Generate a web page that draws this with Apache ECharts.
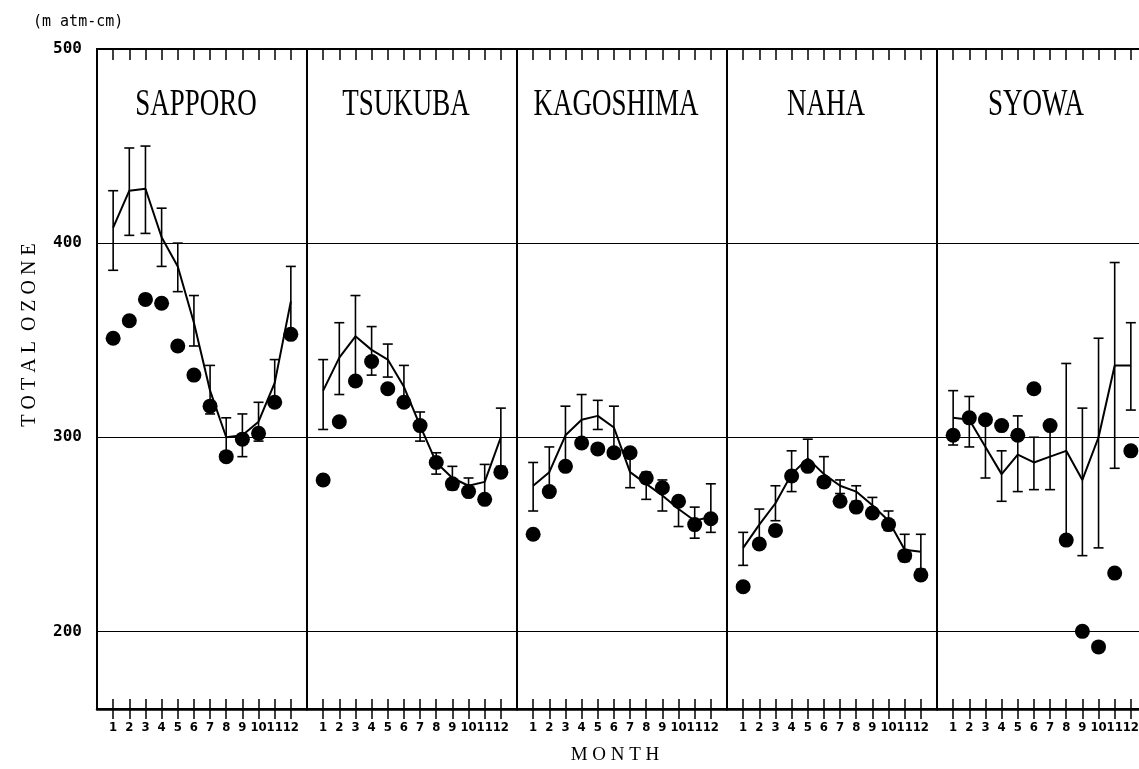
<!DOCTYPE html>
<html>
<head>
<meta charset="utf-8">
<script src="https://cdn.jsdelivr.net/npm/echarts@6/dist/echarts.min.js"></script>
<style>
  html, body { margin: 0; padding: 0; background: #fff; overflow: hidden; }
  #ozone { width: 1160px; height: 769px; }
</style>
</head>
<body>
<div id="ozone"></div>
<script>
// months and stations
const months = [1, 2, 3, 4, 5, 6, 7, 8, 9, 10, 11, 12]
const stations = ['SAPPORO', 'TSUKUBA', 'KAGOSHIMA', 'NAHA', 'SYOWA']
const yLabels = [200, 300, 400, 500]
const refLines = [200, 300, 400]

// mean (line), error bar low/high, single year (dots) — m atm-cm
const sapporoMean = [408, 427, 428, 403, 388, 359, 324, 300, 301, 308, 328, 370]
const sapporoLow = [386, 404, 405, 388, 375, 347, 312, 292, 290, 298, 316, 352]
const sapporoHigh = [427, 449, 450, 418, 400, 373, 337, 310, 312, 318, 340, 388]
const sapporoDots = [351, 360, 371, 369, 347, 332, 316, 290, 299, 302, 318, 353]

const tsukubaMean = [324, 341, 352, 345, 340, 326, 306, 287, 279, 275, 277, 300]
const tsukubaLow = [304, 322, 331, 332, 331, 317, 298, 281, 273, 271, 267, 285]
const tsukubaHigh = [340, 359, 373, 357, 348, 337, 313, 292, 285, 279, 286, 315]
const tsukubaDots = [278, 308, 329, 339, 325, 318, 306, 287, 276, 272, 268, 282]

const kagoshimaMean = [275, 282, 301, 309, 311, 305, 282, 276, 270, 263, 257, 259]
const kagoshimaLow = [262, 270, 286, 297, 304, 294, 274, 268, 262, 254, 248, 251]
const kagoshimaHigh = [287, 295, 316, 322, 319, 316, 292, 282, 278, 269, 264, 276]
const kagoshimaDots = [250, 272, 285, 297, 294, 292, 292, 279, 274, 267, 255, 258]

const nahaMean = [243, 255, 266, 281, 289, 281, 275, 272, 265, 257, 242, 241]
const nahaLow = [234, 247, 257, 272, 285, 275, 271, 267, 260, 252, 236, 232]
const nahaHigh = [251, 263, 275, 293, 299, 290, 278, 275, 269, 262, 250, 250]
const nahaDots = [223, 245, 252, 280, 285, 277, 267, 264, 261, 255, 239, 229]

const syowaMean = [310, 309, 295, 281, 291, 287, 290, 293, 278, 300, 337, 337]
const syowaLow = [296, 295, 279, 267, 272, 273, 273, 248, 239, 243, 284, 314]
const syowaHigh = [324, 321, 308, 293, 311, 300, 306, 338, 315, 351, 390, 359]
const syowaDots = [301, 310, 309, 306, 301, 325, 306, 247, 200, 192, 230, 293]

const meanSets = [sapporoMean, tsukubaMean, kagoshimaMean, nahaMean, syowaMean]
const lowSets = [sapporoLow, tsukubaLow, kagoshimaLow, nahaLow, syowaLow]
const highSets = [sapporoHigh, tsukubaHigh, kagoshimaHigh, nahaHigh, syowaHigh]
const dotSets = [sapporoDots, tsukubaDots, kagoshimaDots, nahaDots, syowaDots]

// layout
const PANEL_LEFT = 97
const PANEL_W = 210
const GRID_TOP = 49
const GRID_H = 660
const MONO = 'DejaVu Sans Mono'
const SERIF = 'Liberation Serif'

function renderErrorBar(params, api) {
  const x = api.value(0)
  const lo = api.coord([x, api.value(1)])
  const hi = api.coord([x, api.value(2)])
  const cap = 5
  const style = { stroke: '#000', lineWidth: 1.6 }
  return {
    type: 'group',
    children: [
      { type: 'line', shape: { x1: lo[0], y1: lo[1], x2: hi[0], y2: hi[1] }, style: style },
      { type: 'line', shape: { x1: lo[0] - cap, y1: lo[1], x2: lo[0] + cap, y2: lo[1] }, style: style },
      { type: 'line', shape: { x1: hi[0] - cap, y1: hi[1], x2: hi[0] + cap, y2: hi[1] }, style: style }
    ]
  }
}

const grids = []
const xAxes = []
const yAxes = []
const series = []
const graphics = []

stations.forEach(function(name, i) {
  grids.push({
    left: PANEL_LEFT + PANEL_W * i,
    top: GRID_TOP,
    width: PANEL_W,
    height: GRID_H,
    show: true,
    borderColor: '#000',
    borderWidth: 2,
    backgroundColor: 'transparent'
  })
  // bottom axis: labels + outer half of ticks
  xAxes.push({
    gridIndex: i, type: 'value', min: 0, max: 13, interval: 1, position: 'bottom',
    axisLine: { show: true, onZero: false, lineStyle: { color: '#000', width: 2.5 } },
    axisTick: { show: true, length: 10, customValues: months, lineStyle: { color: '#000', width: 1.5 } },
    axisLabel: {
      customValues: months, margin: 12, hideOverlap: false, showMinLabel: true, showMaxLabel: true,
      color: '#000', fontFamily: 'DejaVu Sans Condensed', fontSize: 13, fontWeight: 'bold'
    },
    splitLine: { show: false }
  })
  // top axis: inner ticks
  xAxes.push({
    gridIndex: i, type: 'value', min: 0, max: 13, interval: 1, position: 'top',
    axisLine: { show: true, onZero: false, lineStyle: { color: '#000', width: 2 } },
    axisTick: { show: true, inside: true, length: 11, customValues: months, lineStyle: { color: '#000', width: 1.5 } },
    axisLabel: { show: false },
    splitLine: { show: false }
  })
  // bottom axis again: inner half of ticks
  xAxes.push({
    gridIndex: i, type: 'value', min: 0, max: 13, interval: 1, position: 'bottom',
    axisLine: { show: false },
    axisTick: { show: true, inside: true, length: 10, customValues: months, lineStyle: { color: '#000', width: 1.5 } },
    axisLabel: { show: false },
    splitLine: { show: false }
  })
  yAxes.push({
    gridIndex: i, type: 'value', min: 160, max: 500,
    axisLine: { show: false },
    axisTick: { show: false },
    splitLine: { show: false },
    axisLabel: i === 0
      ? { customValues: yLabels, margin: 15, showMaxLabel: true, color: '#000', fontFamily: MONO, fontSize: 16, fontWeight: 'bold' }
      : { show: false }
  })

  series.push({
    type: 'line',
    xAxisIndex: 3 * i,
    yAxisIndex: i,
    data: months.map(function(m, j) { return [m, meanSets[i][j]] }),
    symbol: 'none',
    lineStyle: { color: '#000', width: 2 },
    z: 3,
    markLine: {
      silent: true,
      symbol: 'none',
      label: { show: false },
      lineStyle: { color: '#000', width: 1.2, type: 'solid' },
      data: refLines.map(function(v) { return { yAxis: v } })
    }
  })
  series.push({
    type: 'custom',
    xAxisIndex: 3 * i,
    yAxisIndex: i,
    renderItem: renderErrorBar,
    encode: { x: 0, y: [1, 2] },
    data: months.map(function(m, j) { return [m, lowSets[i][j], highSets[i][j]] }),
    z: 3
  })
  series.push({
    type: 'scatter',
    xAxisIndex: 3 * i,
    yAxisIndex: i,
    data: months.map(function(m, j) { return [m, dotSets[i][j]] }),
    symbol: 'circle',
    symbolSize: 15,
    itemStyle: { color: '#000', opacity: 1 },
    z: 4
  })

  // station name
  graphics.push({
    type: 'text',
    x: PANEL_LEFT + PANEL_W * i + PANEL_W / 2 - 6,
    y: 105,
    scaleY: 1.4,
    style: { text: name, fontFamily: SERIF, fontSize: 27, fill: '#000', align: 'center', verticalAlign: 'middle' }
  })
})

graphics.push({
  type: 'text', x: 33, y: 22,
  style: { text: '(m atm-cm)', fontFamily: MONO, fontSize: 15, fill: '#000', align: 'left', verticalAlign: 'middle' }
})
graphics.push({
  type: 'text', x: 30, y: 335, rotation: Math.PI / 2,
  style: { text: 'T O T A L  O Z O N E', fontFamily: SERIF, fontSize: 20, fill: '#000', align: 'center', verticalAlign: 'middle' }
})
graphics.push({
  type: 'text', x: 615, y: 755,
  style: { text: 'M O N T H', fontFamily: SERIF, fontSize: 19, fill: '#000', align: 'center', verticalAlign: 'middle' }
})

const myChart = echarts.init(document.getElementById('ozone'), null, { renderer: 'canvas' })
myChart.setOption({
  animation: false,
  backgroundColor: '#fff',
  grid: grids,
  xAxis: xAxes,
  yAxis: yAxes,
  series: series,
  graphic: graphics
})
</script>
</body>
</html>
